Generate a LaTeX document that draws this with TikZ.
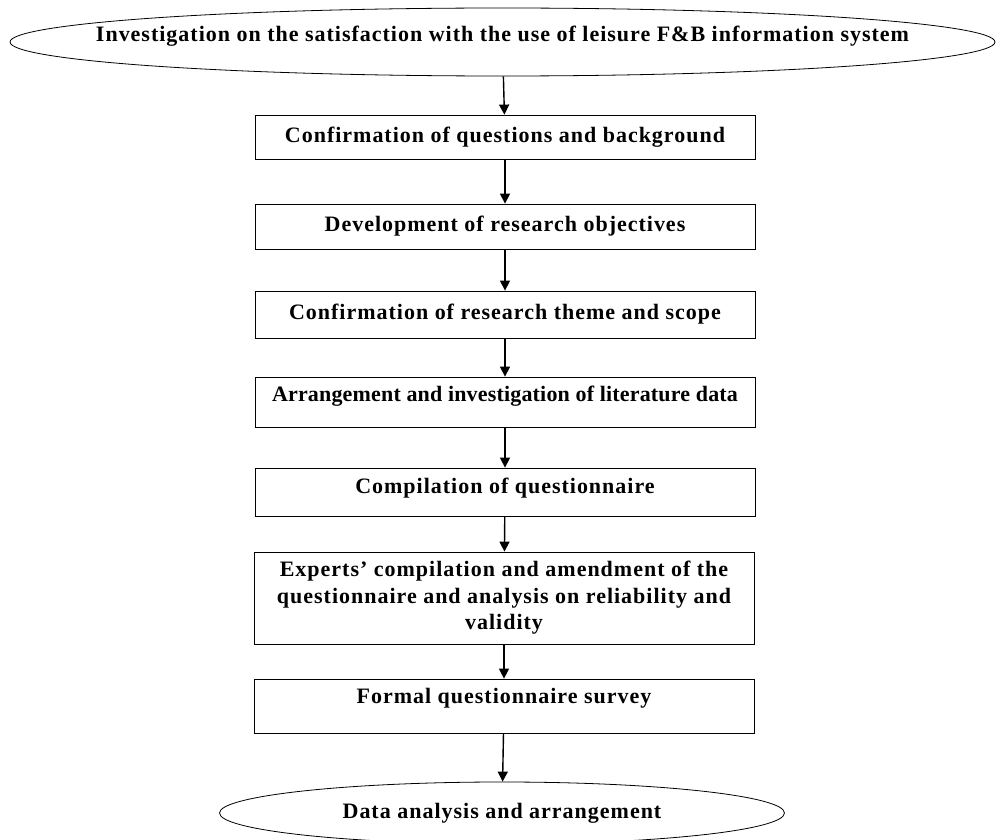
\documentclass[tikz,border=0pt]{standalone}
\usepackage{fontspec}
\setmainfont{Liberation Serif}
\usepackage{tikz}
\usetikzlibrary{shapes.geometric,arrows.meta}

\begin{document}
\begin{tikzpicture}[x=0.5pt, y=-0.5pt,
  txt/.style={font=\bfseries\fontsize{11}{13.3}\selectfont\addfontfeature{LetterSpace=4.5}},
  tight/.style={font=\bfseries\fontsize{11}{13.3}\selectfont\addfontfeature{LetterSpace=0.8}},
  stage/.style={txt, draw, rectangle, minimum width=250pt, align=center, inner sep=2pt},
  terminal/.style={txt, draw, ellipse, inner sep=0pt},
  flow/.style={-{Triangle[width=5pt,length=5pt]}, line width=0.7pt}]
\useasboundingbox (0,0) rectangle (997,840);

% Start and end
\node[terminal, minimum width=492.5pt, minimum height=34pt, text height=7.5pt, text depth=7.5pt] (start) at (502.5,42)
  {\makebox[0pt]{Investigation on the satisfaction with the use of leisure F\&B information system}};
\node[terminal, minimum width=282.5pt, minimum height=31pt] (finish) at (502,813) {Data analysis and arrangement};

% Steps
\node[stage, minimum height=22pt] (confirm) at (505,137) {Confirmation of questions and background};
\node[stage, minimum height=22.5pt] (objectives) at (505,226.5) {Development of research objectives};
\node[stage, minimum height=23.5pt] (theme) at (505,314.5) {Confirmation of research theme and scope};
\node[stage, tight, minimum height=25pt, text depth=8pt] (literature) at (505,402) {Arrangement and investigation of literature data};
\node[stage, minimum height=24pt, text depth=6pt] (compile) at (505,492) {Compilation of questionnaire};
\node[stage, minimum height=46pt] (experts) at (504,598) {Experts' compilation and amendment of the\\questionnaire and analysis on reliability and\\validity};
\node[stage, minimum height=27pt, text depth=10pt] (survey) at (504,706) {Formal questionnaire survey};

% Flow
\draw[flow] (start) -- (confirm);
\draw[flow] (confirm) -- (objectives);
\draw[flow] (objectives) -- (theme);
\draw[flow] (theme) -- (literature);
\draw[flow] (literature) -- (compile);
\draw[flow] (compile) -- (experts);
\draw[flow] (experts) -- (survey);
\draw[flow] (survey) -- (finish);

\end{tikzpicture}
\end{document}
